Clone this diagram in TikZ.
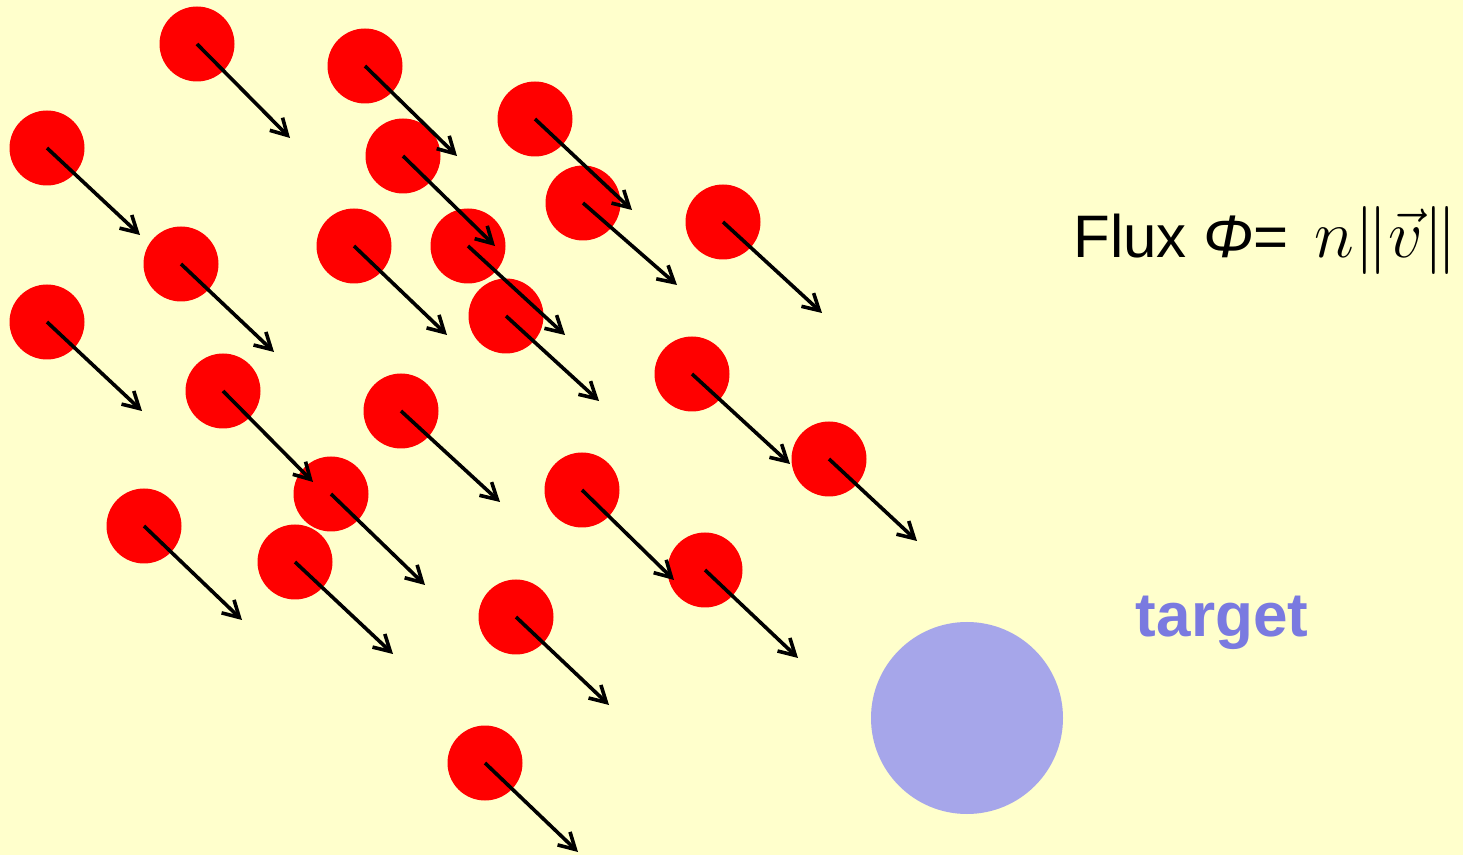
\RequirePackage{fix-cm}
\documentclass[tikz,border=0pt]{standalone}
\usepackage{fontspec}
\setmainfont{Liberation Sans}
\usetikzlibrary{arrows.meta}
\definecolor{bgyellow}{RGB}{255,255,204}
\definecolor{targetblue}{RGB}{166,166,234}
\definecolor{labelblue}{RGB}{122,122,224}

\begin{document}
\begin{tikzpicture}[
  x=0.5pt, y=-0.5pt,
  particle/.style={fill=red, circle, minimum size=37.5pt, inner sep=0pt},
  velocity/.style={-{Straight Barb[length=8pt, width=9pt]}, line width=1.8pt, black},
  targetnode/.style={fill=targetblue, circle, minimum size=96pt, inner sep=0pt}
]
  % background
  \fill[bgyellow] (0,0) rectangle (1463,855);
  \useasboundingbox (0,0) rectangle (1463,855);

  % particles
  \foreach \i/\cx/\cy/\ex/\ey in {
      1/197/44/290/138, 2/365/66/457/156, 3/47/148/140/235,
      4/403/156/495/246, 5/535/119/632/210, 6/583/203/677/285,
      7/723/222/822/313, 8/181/264/274/352, 9/354/246/447/335,
      10/468/246/565/335, 11/506/316/599/401, 12/47/322/142/411,
      13/223/391/313/482, 14/401/411/500/502, 15/692/374/790/464,
      16/829/459/917/541, 17/331/494/425/585, 18/144/526/242/620,
      19/582/490/674/580, 20/295/562/393/654, 21/705/570/798/658,
      22/516/617/609/705, 23/485/763/578/852}{
    \node[particle] (p\i) at (\cx,\cy) {};
    \coordinate (a\i) at (\ex,\ey);
  }

  % velocity arrows
  \foreach \i in {1,...,23}{
    \draw[velocity] (p\i.center) -- (a\i);
  }

  % target
  \node[targetnode] (target) at (967,718) {};
  \node[anchor=base, text=labelblue, font=\fontsize{31}{37}\selectfont\bfseries] (targetlabel) at (1222,637) {target};

  % flux
  \node[anchor=base west, inner sep=0pt, font=\fontsize{30}{36}\selectfont] (flux) at (1073,258)
    {Flux \textit{Φ}=\hspace{13pt}{\fontsize{34}{40}\selectfont$n\|\vec{v}\|$}};
\end{tikzpicture}
\end{document}
